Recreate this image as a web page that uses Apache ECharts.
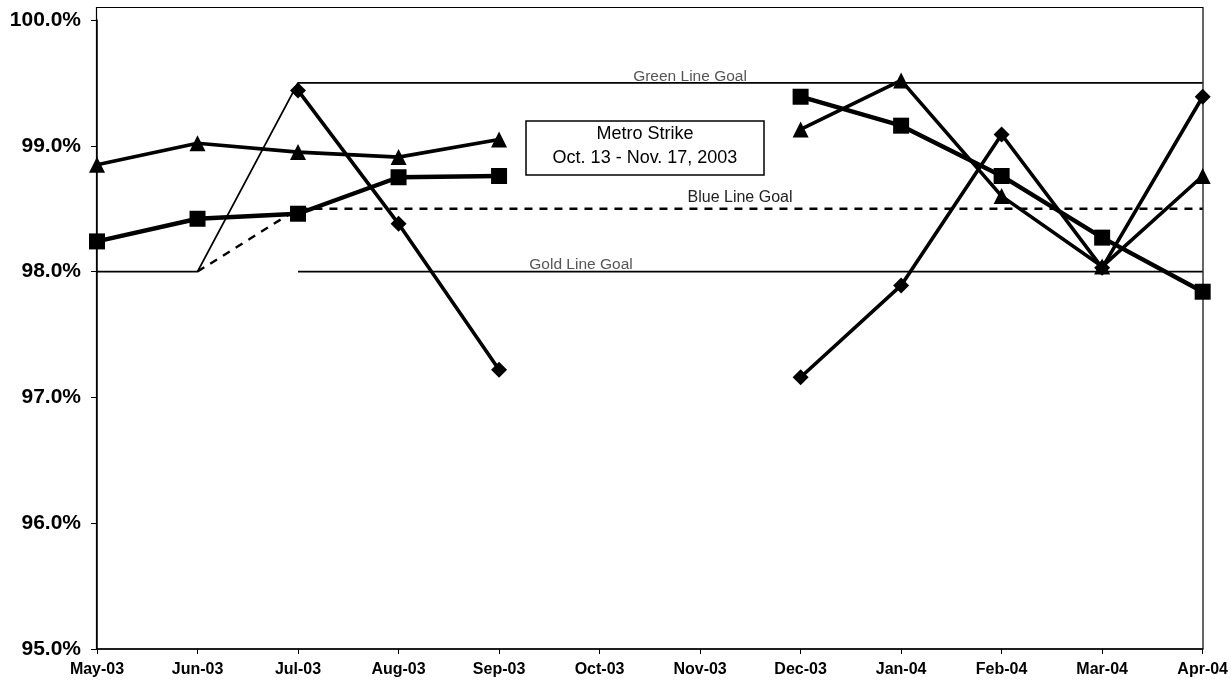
<!DOCTYPE html>
<html>
<head>
<meta charset="utf-8">
<script src="https://cdn.jsdelivr.net/npm/echarts@6/dist/echarts.min.js"></script>
<style>
html,body{margin:0;padding:0;background:#fff;}
#chart{width:1231px;height:682px;}
</style>
</head>
<body>
<div id="chart"></div>
<script>
var categories = ['May-03','Jun-03','Jul-03','Aug-03','Sep-03','Oct-03','Nov-03','Dec-03','Jan-04','Feb-04','Mar-04','Apr-04'];
var diamondSeries = [null, null, 99.44, 98.38, 97.22, null, null, 97.16, 97.89, 99.09, 98.03, 99.39];
var triangleSeries = [98.85, 99.02, 98.95, 98.91, 99.05, null, null, 99.13, 99.52, 98.60, 98.04, 98.76];
var squareSeries = [98.24, 98.42, 98.46, 98.75, 98.76, null, null, 99.39, 99.16, 98.76, 98.27, 97.84];
var greenGoal = [98.0, 98.0, 99.5, 99.5, 99.5, 99.5, 99.5, 99.5, 99.5, 99.5, 99.5, 99.5];
var blueGoal = [null, 98.0, 98.5, 98.5, 98.5, 98.5, 98.5, 98.5, 98.5, 98.5, 98.5, 98.5];
var goldGoal = [null, null, 98.0, 98.0, 98.0, 98.0, 98.0, 98.0, 98.0, 98.0, 98.0, 98.0];
var yTicks = [95, 100, 1];
var noteLines = ['Metro Strike', 'Oct. 13 - Nov. 17, 2003'];
var goalLabels = ['Green Line Goal', 'Blue Line Goal', 'Gold Line Goal'];

var FONT = "'Liberation Sans', Arial, sans-serif";
var chart = echarts.init(document.getElementById('chart'), null, {renderer: 'canvas'});

function goalSeries(name, data, dashed) {
  return {
    name: name, type: 'line', data: data, symbol: 'none', z: 1,
    lineStyle: {color: '#000', width: dashed ? 2.4 : 1.8, type: dashed ? [8, 7] : 'solid'},
    connectNulls: false, silent: true
  };
}
function dataSeries(name, data, symbol, size, width) {
  return {
    name: name, type: 'line', data: data, symbol: symbol, symbolSize: size,
    showAllSymbol: true, z: 3,
    itemStyle: {color: '#000', borderWidth: 0},
    lineStyle: {color: '#000', width: width},
    connectNulls: false
  };
}

chart.setOption({
  animation: false,
  backgroundColor: '#fff',
  grid: {left: 97, right: 28, top: 20, bottom: 33, containLabel: false},
  xAxis: {
    type: 'category', data: categories, boundaryGap: false,
    axisLine: {lineStyle: {color: '#000', width: 1.5}},
    axisTick: {show: true, length: 5, lineStyle: {color: '#000'}},
    axisLabel: {color: '#000', fontFamily: FONT, fontWeight: 'bold', fontSize: 16, margin: 13, interval: 0},
    splitLine: {show: false}
  },
  yAxis: {
    type: 'value', min: yTicks[0], max: yTicks[1], interval: yTicks[2],
    axisLine: {show: true, lineStyle: {color: '#000', width: 1.5}},
    axisTick: {show: true, length: 6, lineStyle: {color: '#000'}},
    axisLabel: {color: '#000', fontFamily: FONT, fontWeight: 'bold', fontSize: 21, margin: 16,
      formatter: function (v) { return v.toFixed(1) + '%'; }},
    splitLine: {show: false}
  },
  series: [
    goalSeries(goalLabels[0], greenGoal, false),
    goalSeries(goalLabels[1], blueGoal, true),
    goalSeries(goalLabels[2], goldGoal, false),
    dataSeries('Diamond', diamondSeries, 'diamond', 16, 3.6),
    dataSeries('Triangle', triangleSeries, 'triangle', 16, 3.6),
    dataSeries('Square', squareSeries, 'rect', 16, 4.4)
  ],
  graphic: [
    {type: 'rect', shape: {x: 96.5, y: 7.5, width: 1106.5, height: 641.5}, style: {fill: 'none', stroke: '#000', lineWidth: 1.2}, silent: true, z: 0},
    {type: 'rect', shape: {x: 526, y: 121, width: 238, height: 54}, style: {fill: '#fff', stroke: '#000', lineWidth: 1.5}, z: 10},
    {type: 'text', x: 645, y: 134, style: {text: noteLines[0], fill: '#000', font: '18px ' + FONT, textAlign: 'center', textVerticalAlign: 'middle'}, z: 11},
    {type: 'text', x: 645, y: 158, style: {text: noteLines[1], fill: '#000', font: '18px ' + FONT, textAlign: 'center', textVerticalAlign: 'middle'}, z: 11},
    {type: 'text', x: 690, y: 77, style: {text: goalLabels[0], fill: '#555', font: '15.5px ' + FONT, textAlign: 'center', textVerticalAlign: 'middle'}, z: 11},
    {type: 'text', x: 740, y: 198, style: {text: goalLabels[1], fill: '#222', font: '16px ' + FONT, textAlign: 'center', textVerticalAlign: 'middle'}, z: 11},
    {type: 'text', x: 581, y: 265, style: {text: goalLabels[2], fill: '#555', font: '15.5px ' + FONT, textAlign: 'center', textVerticalAlign: 'middle'}, z: 11}
  ]
});
</script>
</body>
</html>
